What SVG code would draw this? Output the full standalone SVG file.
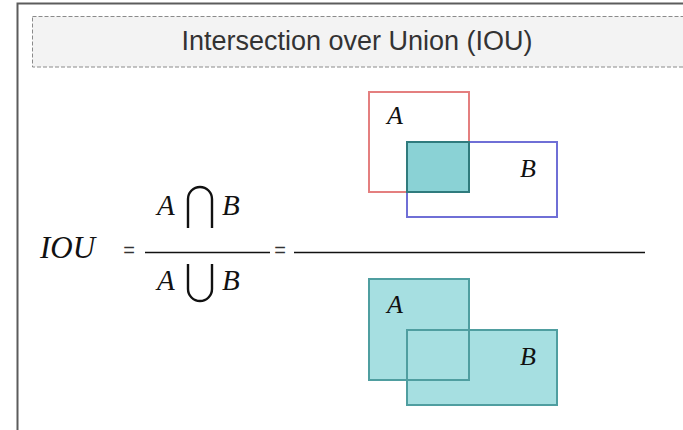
<svg xmlns="http://www.w3.org/2000/svg" width="683" height="430" viewBox="0 0 683 430">
<style>
.frame{fill:none;stroke:#5c5c5c;stroke-width:2}
.titlebox{fill:#f3f3f3;stroke:#8a8a8a;stroke-width:1;stroke-dasharray:4 2}
.title{font-family:"Liberation Sans",Arial,sans-serif;font-size:27px;fill:#333;text-anchor:middle}
.math{font-family:"Liberation Serif","Times New Roman",serif;font-style:italic;fill:#111}
.eq{font-family:"Liberation Sans",Arial,sans-serif;font-size:20px;fill:#333;text-anchor:middle}
.bar{stroke:#111;stroke-width:1.6}
.teal{fill:#a6dfe1;stroke:none}
.tealline{fill:none;stroke:#4f9ea0;stroke-width:2}
</style>
<g id="frame">
<path class="frame" d="M17.5 430 V3.5 H683"/>
</g>
<g id="title">
<rect class="titlebox" x="32.5" y="16.5" width="651" height="50.5"/>
<text class="title" x="357" y="50">Intersection over Union (IOU)</text>
</g>
<g id="formula">
<text class="math" x="40" y="258" font-size="31">IOU</text>
<text class="eq" x="129" y="257">=</text>
<text class="math" x="157" y="215" font-size="29">A</text>
<path d="M188 228 V199 A12 12 0 0 1 212 199 V228" fill="none" stroke="#111" stroke-width="2.4"/>
<text class="math" x="222" y="215" font-size="29">B</text>
<line class="bar" x1="145" y1="252.5" x2="270" y2="252.5"/>
<text class="eq" x="280" y="257">=</text>
<text class="math" x="157" y="290" font-size="29">A</text>
<path d="M188 264 V289 A12 12 0 0 0 212 289 V264" fill="none" stroke="#111" stroke-width="2.4"/>
<text class="math" x="222" y="290" font-size="29">B</text>
<line class="bar" x1="294" y1="252.5" x2="645" y2="252.5"/>
</g>
<g id="intersection">
<rect x="369" y="92" width="100" height="100" fill="none" stroke="#e47f7f" stroke-width="2"/>
<rect x="407" y="142" width="150" height="75" fill="none" stroke="#6f6fd6" stroke-width="2"/>
<rect x="407" y="142" width="62" height="50" fill="#8ad2d5" stroke="#2f7b7d" stroke-width="2"/>
<text class="math" x="387" y="124" font-size="26">A</text>
<text class="math" x="520" y="177" font-size="26">B</text>
</g>
<g id="union">
<rect class="teal" x="369" y="279" width="100" height="101"/>
<rect class="teal" x="407" y="330" width="150" height="75"/>
<rect class="tealline" x="369" y="279" width="100" height="101"/>
<rect class="tealline" x="407" y="330" width="150" height="75"/>
<text class="math" x="387" y="313" font-size="26">A</text>
<text class="math" x="520" y="365" font-size="26">B</text>
</g>
</svg>
